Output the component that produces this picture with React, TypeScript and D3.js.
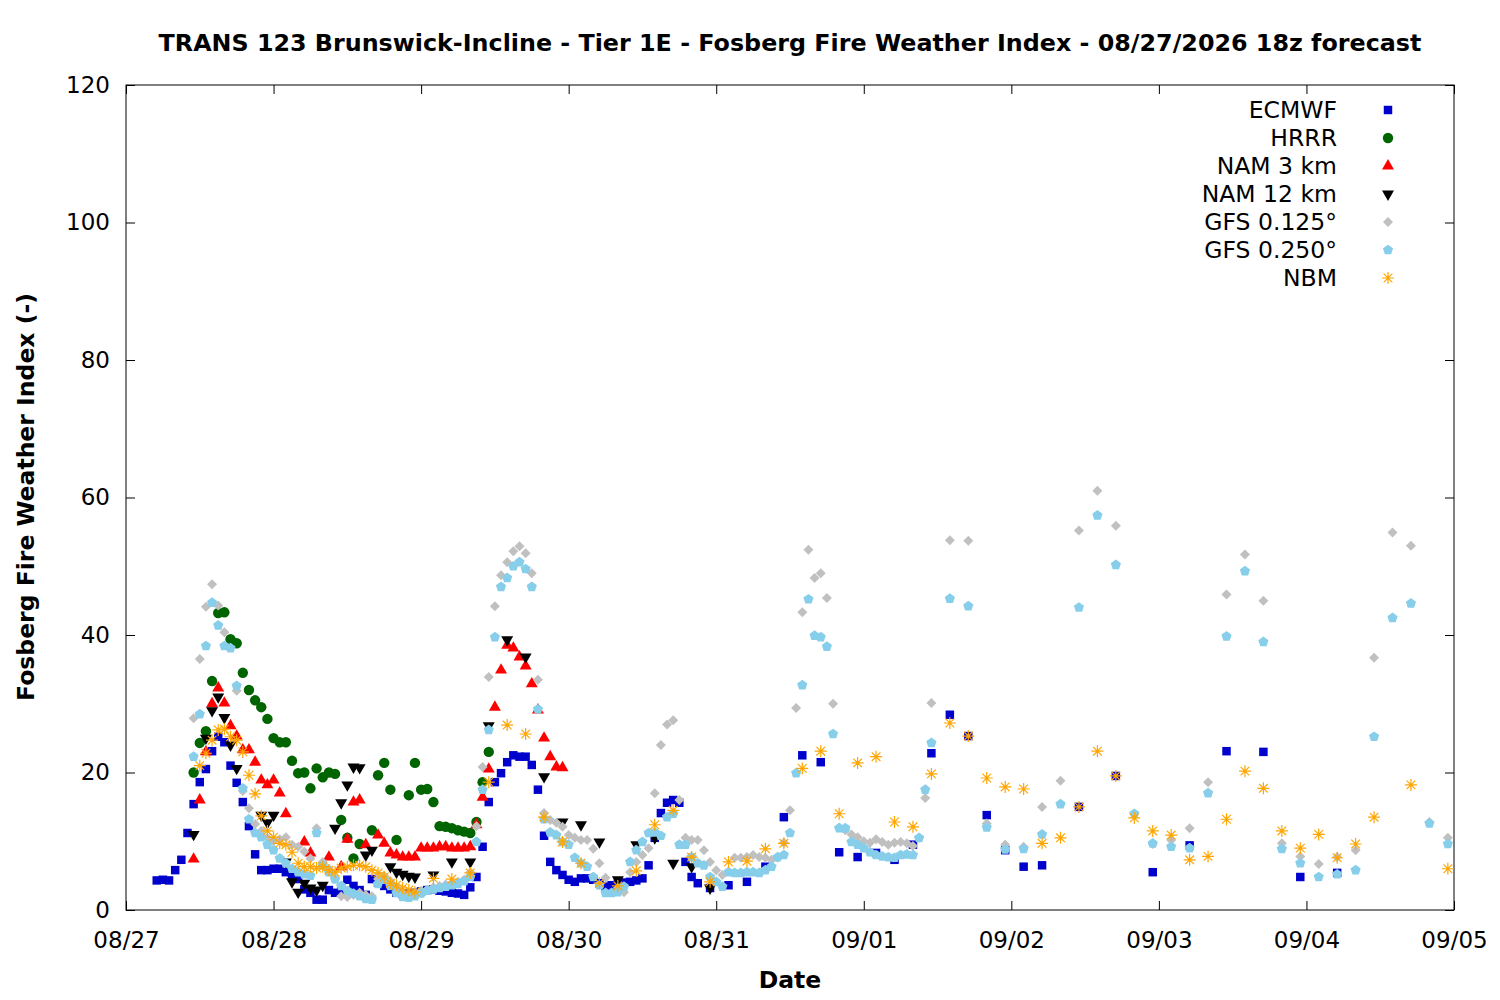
import { useEffect, useRef } from 'react'
import * as d3 from 'd3'

type Pt = [number, number | null]

// hours counted from 08/27 00z
const forecastStart = Date.UTC(2026, 7, 27)
const hourMs = 3600 * 1000

const yTicks = [0, 20, 40, 60, 80, 100, 120]

function hourly(start: number, values: (number | null)[]): Pt[] {
  return values.map((v, i) => [start + i, v] as Pt)
}

// ECMWF
const ecmwfHourly = [
  4.3, 4.4, 4.3, 5.8, 7.3, 11.2, 15.4, 18.6, 20.5, 23.1, 25.2, 24.4, 21, 18.5, 15.7, 12.2, 8.1, 5.8, 5.8, 6,
  6, 5.5, 5, 4.5, 3, 2.5, 1.5, 1.5, 2.9, 2.5, 2.8, 4.4, 3.5, 2.9, 2.2, 4.5, 4, 3.5, 3, 2.5,
  2.3, 2.4, 2.5, 2.7, 2.9, 3, 2.8, 2.7, 2.5, 2.4, 2.2, 3.3, 4.8, 9.2, 15.7, 18.6, 19.9, 21.5, 22.5, 22.3,
  22.3, 21.1, 17.5, 10.8, 7, 5.8, 5.1, 4.4, 4.1, 4.6, 4.6, 4.4, 3.9, 3.4, 3.6, 3.8, 4, 4.1, 4.3, 4.6,
  6.5, 10.5, 14.1, 15.6, 16, 15.6, 7, 4.8, 3.9,
]
const ecmwfLater: Pt[] = [
  [95, 3.2], [98, 3.6], [101, 4.1], [104, 6.3], [107, 13.5], [110, 22.5], [113, 21.5], [116, 8.4], [119, 7.7],
  [122, 8.3], [125, 7.3], [128, 9.5], [131, 22.8], [134, 28.4], [137, 25.3], [140, 13.8], [143, 8.7], [146, 6.3],
  [149, 6.5], [155, 15], [161, 19.5], [167, 5.5], [173, 9.4], [179, 23.1], [185, 23], [191, 4.8], [197, 5.4],
]

// HRRR
const hrrrHourly = [
  20, 24.3, 26, 33.3, 43.2, 43.3, 39.4, 38.8, 34.5, 32, 30.5, 29.5, 27.8, 25, 24.4, 24.4, 21.7, 19.9, 20, 17.7,
  20.6, 19.3, 20, 19.8, 13.1, 10.5, 7.5, 9.6, null, 11.6, 19.6, 21.4, 17.5, 10.2, null, 16.7, 21.4, 17.5, 17.6, 15.7,
  12.2, 12.1, 11.9, 11.6, 11.4, 11.2, 12.8, 18.6, 23,
]

// NAM 3 km
const nam3Hourly = [
  7.4, 16, 23, 30, 32.3, 30.1, 26.8, 25.3, 23.3, 23.3, 21.5, 18.9, 18.2, 18.9, 17, 14, null, null, 9.9, 8.3,
  null, null, 7.7, null, 6.3, 10.3, 15.7, 16, 9.5, null, 10.9, 9.7, 8.3, 8, 7.7, 7.7, 7.7, 9, 9, 9,
  9.2, 9.2, 9, 9, 9, 9.2, 12.4, 16.4, 20.5, 29.5, 34.9, 38.5, 38.1, 36.8, 35.5, 32.9, 29.1, 25, 22.3, 20.8,
  20.7,
]

// NAM 12 km
const nam12Hourly = [
  11, null, 25, 29, 31, 28, 24, 20.6, null, null, null, 13.8, 12.7, 13.8, null, 7, 4.1, 2.6, 3.9, 3.2,
  2.9, 3.6, null, 11.9, 15.6, 18.2, 20.8, 20.7, 8, 8.7, null, null, 6.3, 5.5, 5.2, 4.9, 4.8,
]
const nam12Later: Pt[] = [
  [50, 5.1], [53, 7], [56, 7], [59, 26.8], [62, 39.3], [65, 36.8], [68, 19.4], [71, 12.8], [74, 12.4],
  [77, 9.9], [80, 4.4], [83, 9.5], [86, 10.5], [89, 6.8], [92, 6.3], [95, 3.2],
]

// GFS 0.125°
const gfs125Hourly = [
  27.9, 36.5, 44.1, 47.4, 44.3, 40.4, null, 31.9, 17.3, 14.8, 12.5, 11.5, 10.5, 10, 10.3, 10.6, 9.5, 9.2, 8.5, 7.5,
  11.9, 7, 6, 4.5, 2, 1.9, 2.2, 2.5, 2.2, 2, 4.5, 5, 4.2, 3.2, 2.4, 2.2, 2.5, 2.8, 3, 3.3,
  3.5, 3.7, 3.9, 4.1, 4.4, 5.5, 12.2, 20.8, 33.9, 44.2, 48.7, 50.6, 52.2, 52.9, 51.9, 49, 33.5, 14.1, 13.1, 12.7,
  12.1, 10.9, 10.5, 10.2, 10.2, 8.9, 6.8, 4.7, null, 3.2, 2.6, 5.5, 7, 8, 9, 17, 24, 27, 27.6, 16,
  10.5, 10.2, 10.2, 8.7, 7, 5.8, 5.1, null, 7.6, 7.6, 7.7, 8, 7.7, 7.6, 7.3, 7.6, 9.8, 14.5, 29.4, 43.3,
  52.4, 48.3, 49, 45.4, 30, 12, 11.6, 11, 10.6, 10, 9.8, 10.3, 9.9, 9.5, 9.8, 9.9, 9.7, 9.3, 10.5, 16.3,
  30.1,
]
const gfs125Later: Pt[] = [
  [134, 53.8], [137, 53.7], [140, 12.6], [143, 9.5], [146, 9.2], [149, 15], [152, 18.8], [155, 55.2], [158, 61],
  [161, 55.9], [164, 14], [167, 9.6], [170, 10.2], [173, 11.9], [176, 18.6], [179, 45.9], [182, 51.7], [185, 45],
  [188, 9.7], [191, 7.8], [194, 6.7], [197, 7.7], [200, 8.7], [203, 36.7], [206, 54.9], [209, 53], [212, 12.8],
  [215, 10.5],
]

// GFS 0.250°
const gfs250Hourly = [
  22.3, 28.5, 38.4, 44.7, 41.4, 38.4, 38.1, 32.6, 17.7, 13.2, 11.2, 10.6, 9.5, 8.7, 7.5, 6.8, 6, 5.5, 5.2, 5,
  11.2, 6.5, 5.5, 4.5, 3.5, 2.8, 2.4, 2, 1.6, 1.5, 3.8, 4.4, 3.5, 2.5, 1.9, 1.8, 2, 2.4, 2.8, 3,
  3.2, 3.4, 3.6, 3.8, 4.2, 4.8, 9.9, 17.5, 26.2, 39.7, 47, 48.3, 50, 50.6, 49.6, 47, 29.2, 13.2, 11.3, 10.9,
  9.9, 9.5, 7.6, 6.8, 6.3, 4.8, 3.6, 2.5, 2.5, 2.6, 3.4, 7, 8.7, 9.9, 11.2, 11.3, 10.8, 13.5, 14, 9.5,
  9.5, 7.7, 6.8, 6.5, 4.8, 4.1, 3.4, 5.5, 5.4, 5.4, 5.5, 5.5, 5.4, 5.8, 6.3, 7.7, 8, 11.2, 19.9, 32.7,
  45.2, 39.9, 39.7, 38.3, 25.6, 11.9, 11.9, 9.9, 9.5, 9, 8.4, 8, 7.8, 7.7, 7.6, 8, 8.1, 8, 10.5, 17.5,
  24.3,
]
const gfs250Later: Pt[] = [
  [134, 45.3], [137, 44.2], [140, 12], [143, 8.8], [146, 8.9], [149, 11], [152, 15.4], [155, 44], [158, 57.4],
  [161, 50.2], [164, 14], [167, 9.7], [170, 9.2], [173, 9], [176, 17], [179, 39.8], [182, 49.3], [185, 39],
  [188, 8.9], [191, 6.8], [194, 4.8], [197, 5.2], [200, 5.8], [203, 25.2], [206, 42.5], [209, 44.6], [212, 12.6],
  [215, 9.6],
]

// NBM
const nbmHourly = [
  21, 22.8, 24.7, 26.2, 26.3, 25.2, 24.7, 23, 19.6, 16.9, 13.7, 11.5, 10.6, 9.7, 9.5, 8.4, 6.8, 6.3, 6.3, 6.1,
  6.3, 5.8, 5.5, 6.1, 6.3, 6.5, 6.5, 6.3, 5.8, 5.4, 4.8, 3.9, 3.6, 3.2, 2.9, 2.6,
]
const nbmLater: Pt[] = [
  [50, 4.6], [53, 4.5], [56, 5.4], [59, 18.6], [62, 26.9], [65, 25.6], [68, 13.5], [71, 9.9], [74, 6.8],
  [77, 3.9], [80, 3.5], [83, 5.7], [86, 12.4], [89, 14.5], [92, 7.7], [95, 4.1], [98, 7], [101, 7.1],
  [104, 8.9], [107, 9.7], [110, 20.6], [113, 23.1], [116, 14], [119, 21.4], [122, 22.3], [125, 12.8], [128, 12.1],
  [131, 19.8], [134, 27.2], [137, 25.3], [140, 19.2], [143, 17.9], [146, 17.6], [149, 9.7], [152, 10.5], [155, 15],
  [158, 23.1], [161, 19.5], [164, 13.4], [167, 11.5], [170, 10.9], [173, 7.3], [176, 7.8], [179, 13.2], [182, 20.2],
  [185, 17.7], [188, 11.5], [191, 9], [194, 11], [197, 7.6], [200, 9.6], [203, 13.5], [209, 18.2], [215, 6],
]

// custom gnuplot-like point shapes
const symbolDiamond: d3.SymbolType = {
  draw(ctx, size) {
    const r = Math.sqrt(size / 2)
    ctx.moveTo(0, -r)
    ctx.lineTo(r, 0)
    ctx.lineTo(0, r)
    ctx.lineTo(-r, 0)
    ctx.closePath()
  },
}
const symbolPentagon: d3.SymbolType = {
  draw(ctx, size) {
    const r = Math.sqrt(size / 2.378)
    for (let i = 0; i < 5; i++) {
      const a = -Math.PI / 2 + (i * 2 * Math.PI) / 5
      if (i === 0) ctx.moveTo(r * Math.cos(a), r * Math.sin(a))
      else ctx.lineTo(r * Math.cos(a), r * Math.sin(a))
    }
    ctx.closePath()
  },
}
const symbolStar: d3.SymbolType = {
  draw(ctx, size) {
    const r = Math.sqrt(size) / 2
    const d = r * 0.72
    ctx.moveTo(-r, 0)
    ctx.lineTo(r, 0)
    ctx.moveTo(0, -r)
    ctx.lineTo(0, r)
    ctx.moveTo(-d, -d)
    ctx.lineTo(d, d)
    ctx.moveTo(-d, d)
    ctx.lineTo(d, -d)
  },
}

interface Series {
  name: string
  color: string
  type: d3.SymbolType
  size: number
  rotate?: number
  stroke?: boolean
  points: Pt[]
}

const series: Series[] = [
  { name: 'ECMWF', color: '#0000cd', type: d3.symbolSquare, size: 72, points: [...hourly(5, ecmwfHourly), ...ecmwfLater] },
  { name: 'HRRR', color: '#006400', type: d3.symbolCircle, size: 85, points: hourly(11, hrrrHourly) },
  { name: 'NAM 3 km', color: '#ff0000', type: d3.symbolTriangle, size: 62, points: hourly(11, nam3Hourly) },
  { name: 'NAM 12 km', color: '#000000', type: d3.symbolTriangle, size: 62, rotate: 180, points: [...hourly(11, nam12Hourly), ...nam12Later] },
  { name: 'GFS 0.125°', color: '#c0c0c0', type: symbolDiamond, size: 50, points: [...hourly(11, gfs125Hourly), ...gfs125Later] },
  { name: 'GFS 0.250°', color: '#87ceeb', type: symbolPentagon, size: 68, points: [...hourly(11, gfs250Hourly), ...gfs250Later] },
  { name: 'NBM', color: '#ffa500', type: symbolStar, size: 144, stroke: true, points: [...hourly(12, nbmHourly), ...nbmLater] },
]

export default function App() {
  const svgRef = useRef<SVGSVGElement>(null)

  useEffect(() => {
    if (!svgRef.current) return
    const svg = d3.select(svgRef.current)
    svg.selectAll('*').remove()

    const margin = { top: 85, right: 46, bottom: 90, left: 126 }
    const width = 1500 - margin.left - margin.right
    const height = 1000 - margin.top - margin.bottom
    const font = 'DejaVu Sans, sans-serif'

    const x = d3
      .scaleUtc()
      .domain([new Date(forecastStart), new Date(forecastStart + 9 * 24 * hourMs)])
      .range([0, width])
    const y = d3.scaleLinear().domain([0, 120]).range([height, 0])

    const g = svg.append('g').attr('transform', `translate(${margin.left},${margin.top})`)

    // bottom axis with inward ticks
    const xAxis = g
      .append('g')
      .attr('transform', `translate(0,${height})`)
      .call(
        d3
          .axisBottom(x)
          .ticks(d3.utcDay.every(1))
          .tickSizeInner(-9)
          .tickSizeOuter(0)
          .tickPadding(22)
          .tickFormat((d) => d3.utcFormat('%m/%d')(d as Date)),
      )
    xAxis.select('.domain').remove()
    xAxis.selectAll('text').style('font-size', '23px').style('font-family', font).attr('fill', '#000')

    // mirrored top ticks
    const xTop = g.append('g').call(d3.axisTop(x).ticks(d3.utcDay.every(1)).tickSizeInner(-9).tickSizeOuter(0).tickFormat(() => ''))
    xTop.select('.domain').remove()

    const yAxis = g
      .append('g')
      .call(d3.axisLeft(y).tickValues(yTicks).tickSizeInner(-9).tickSizeOuter(0).tickPadding(16))
    yAxis.select('.domain').remove()
    yAxis.selectAll('text').style('font-size', '23px').style('font-family', font).attr('fill', '#000')

    const yRight = g
      .append('g')
      .attr('transform', `translate(${width},0)`)
      .call(d3.axisRight(y).tickValues(yTicks).tickSizeInner(-9).tickSizeOuter(0).tickFormat(() => ''))
    yRight.select('.domain').remove()

    g.append('rect')
      .attr('width', width)
      .attr('height', height)
      .attr('fill', 'none')
      .attr('stroke', '#000')
      .attr('stroke-width', 1)

    // points
    series.forEach((s) => {
      const path = d3.symbol().type(s.type).size(s.size)()
      g.append('g')
        .selectAll('path')
        .data(s.points.filter((p) => p[1] !== null))
        .enter()
        .append('path')
        .attr('d', path)
        .attr(
          'transform',
          (p) => `translate(${x(new Date(forecastStart + p[0] * hourMs))},${y(p[1] as number)})${s.rotate ? ` rotate(${s.rotate})` : ''}`,
        )
        .attr('fill', s.stroke ? 'none' : s.color)
        .attr('stroke', s.stroke ? s.color : 'none')
        .attr('stroke-width', 1.2)
    })

    // legend
    const legend = svg.append('g')
    series.forEach((s, i) => {
      const cy = 110 + i * 28
      legend
        .append('text')
        .attr('x', 1337)
        .attr('y', cy)
        .attr('dy', '0.35em')
        .attr('text-anchor', 'end')
        .style('font-size', '23.5px')
        .style('font-family', font)
        .text(s.name)
      legend
        .append('path')
        .attr('d', d3.symbol().type(s.type).size(s.size)())
        .attr('transform', `translate(1388,${cy})${s.rotate ? ` rotate(${s.rotate})` : ''}`)
        .attr('fill', s.stroke ? 'none' : s.color)
        .attr('stroke', s.stroke ? s.color : 'none')
        .attr('stroke-width', 1.2)
    })

    // titles
    svg
      .append('text')
      .attr('x', 790)
      .attr('y', 51)
      .attr('text-anchor', 'middle')
      .style('font-size', '23.8px')
      .style('font-weight', 'bold')
      .style('font-family', font)
      .text('TRANS 123 Brunswick-Incline - Tier 1E - Fosberg Fire Weather Index - 08/27/2026 18z forecast')

    svg
      .append('text')
      .attr('x', 790)
      .attr('y', 988)
      .attr('text-anchor', 'middle')
      .style('font-size', '23.5px')
      .style('font-weight', 'bold')
      .style('font-family', font)
      .text('Date')

    svg
      .append('text')
      .attr('transform', 'translate(34,497) rotate(-90)')
      .attr('text-anchor', 'middle')
      .style('font-size', '23.5px')
      .style('font-weight', 'bold')
      .style('font-family', font)
      .text('Fosberg Fire Weather Index (-)')
  }, [])

  return (
    <svg
      ref={svgRef}
      width={1500}
      height={1000}
      style={{ position: 'absolute', left: 0, top: 0, background: '#fff' }}
    />
  )
}
